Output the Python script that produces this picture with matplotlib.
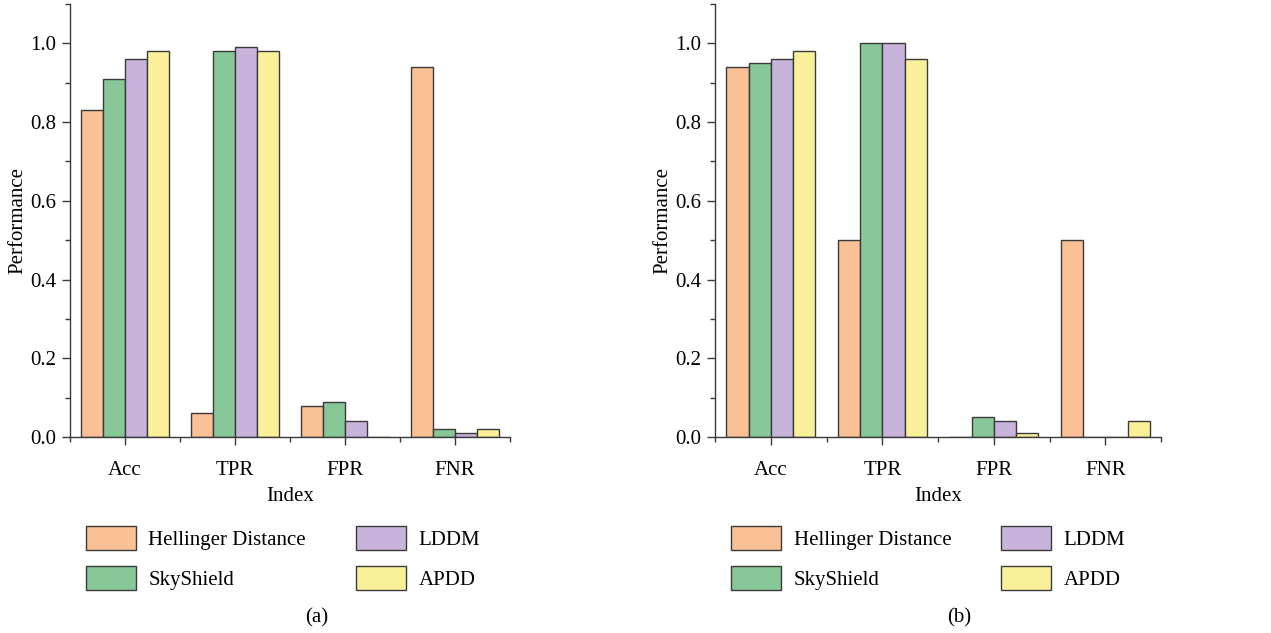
import numpy as np
import matplotlib
matplotlib.use("Agg")
import matplotlib.pyplot as plt
from matplotlib.ticker import MultipleLocator

plt.rcParams['font.family'] = ['Liberation Serif', 'DejaVu Serif']

indices = ['Acc', 'TPR', 'FPR', 'FNR']
methods = ['Hellinger Distance', 'SkyShield', 'LDDM', 'APDD']
colors = ['#F9C195', '#88C797', '#C8B4DA', '#FAF09A']

# panel (a)
hellinger_a = [0.83, 0.06, 0.08, 0.94]
skyshield_a = [0.91, 0.98, 0.09, 0.02]
lddm_a = [0.96, 0.99, 0.04, 0.01]
apdd_a = [0.98, 0.98, 0.0, 0.02]

# panel (b)
hellinger_b = [0.94, 0.50, 0.0, 0.50]
skyshield_b = [0.95, 1.00, 0.05, 0.0]
lddm_b = [0.96, 1.00, 0.04, 0.0]
apdd_b = [0.98, 0.96, 0.01, 0.04]

EDGE = '#3a3a3a'
FS = 15


def draw_panel(ax, series):
    x = np.arange(1, len(indices) + 1)
    width = 0.2
    offsets = [-0.3, -0.1, 0.1, 0.3]
    for vals, name, col, off in zip(series, methods, colors, offsets):
        ax.bar(x + off, vals, width, color=col, edgecolor=EDGE,
               linewidth=1.0, label=name)

    ax.set_xlim(0.5, 4.5)
    ax.set_ylim(0, 1.1)
    ax.set_xticks(x)
    ax.set_xticklabels(indices)
    ax.set_xticks(np.arange(0.5, 4.6, 1.0), minor=True)
    ax.yaxis.set_minor_locator(MultipleLocator(0.1))
    ax.set_yticks([0.0, 0.2, 0.4, 0.6, 0.8, 1.0])
    ax.set_yticklabels(['0.0', '0.2', '0.4', '0.6', '0.8', '1.0'])

    for side in ['top', 'right']:
        ax.spines[side].set_visible(False)
    for side in ['left', 'bottom']:
        ax.spines[side].set_color(EDGE)
        ax.spines[side].set_linewidth(1.0)

    ax.tick_params(axis='both', which='major', direction='out', length=6,
                   width=1.0, color=EDGE, labelsize=FS)
    ax.tick_params(axis='both', which='minor', direction='out', length=3.5,
                   width=1.0, color=EDGE)
    ax.tick_params(axis='x', which='major', pad=11)
    ax.tick_params(axis='y', which='major', pad=4)

    ax.set_xlabel('Index', fontsize=FS, labelpad=5)
    ax.set_ylabel('Performance', fontsize=FS, labelpad=2)

    ax.legend(loc='upper left', bbox_to_anchor=(0.036, -0.205), ncol=2,
              frameon=False, fontsize=FS, handlelength=2.4, handleheight=1.4,
              handletextpad=0.6, columnspacing=2.4, labelspacing=0.77,
              borderpad=0, borderaxespad=0)


fig = plt.figure(figsize=(12.71, 6.33), dpi=100)
ax_a = fig.add_axes([0.0551, 0.3096, 0.3462, 0.684])
ax_b = fig.add_axes([0.5626, 0.3096, 0.3509, 0.684])

draw_panel(ax_a, [hellinger_a, skyshield_a, lddm_a, apdd_a])
draw_panel(ax_b, [hellinger_b, skyshield_b, lddm_b, apdd_b])

fig.text(0.249, 0.024, '(a)', ha='center', va='center', fontsize=FS)
fig.text(0.755, 0.024, '(b)', ha='center', va='center', fontsize=FS)

fig.savefig('out.png', dpi=100)
